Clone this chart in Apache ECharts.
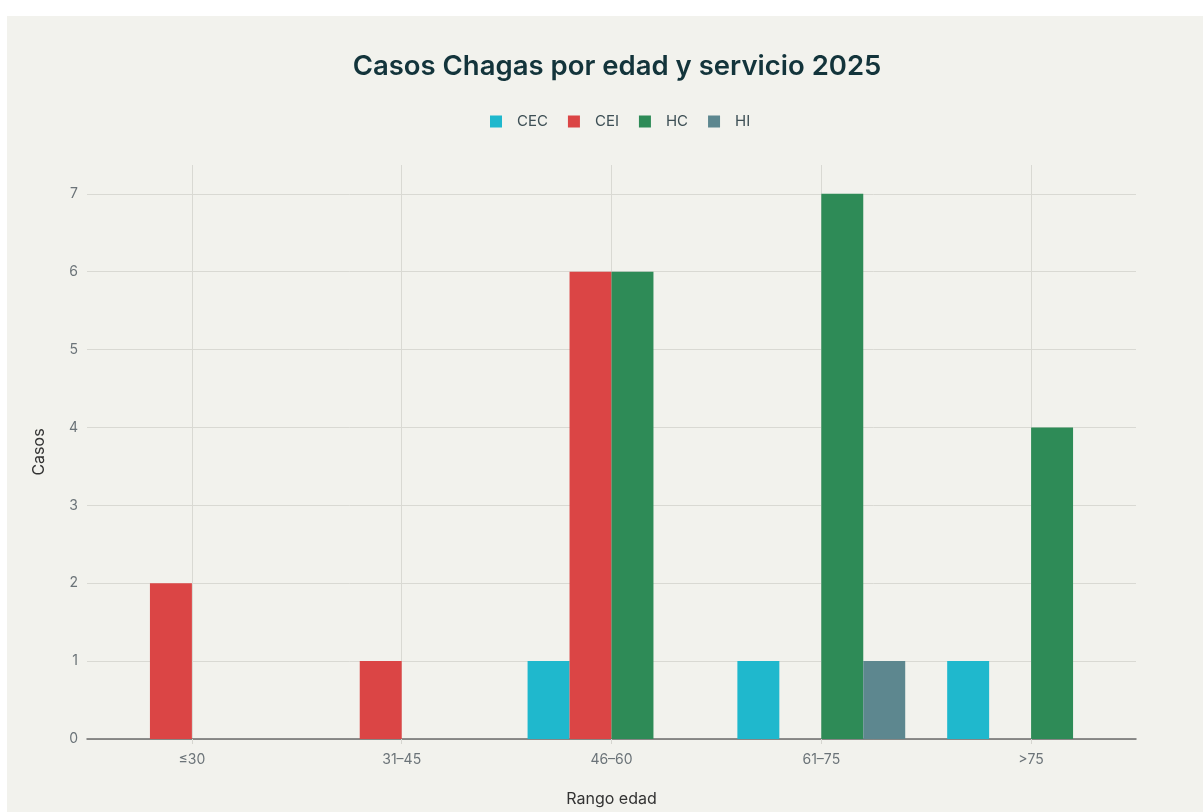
<!DOCTYPE html>
<html>
<head>
<meta charset="utf-8">
<script src="https://cdn.jsdelivr.net/npm/echarts@6/dist/echarts.min.js"></script>
<style>
  html, body { margin: 0; padding: 0; background: #ffffff; }
  #chart { position: absolute; left: 7px; top: 16px; width: 1196px; height: 796px; background: #f2f2ed; }
</style>
</head>
<body>
<div id="chart"></div>
<script>
// age ranges and cases per service
const categories = ['≤30', '31–45', '46–60', '61–75', '>75']
const cecData = [0, 0, 1, 1, 1]
const ceiData = [2, 1, 6, 0, 0]
const hcData = [0, 0, 6, 7, 4]
const hiData = [0, 0, 0, 1, 0]

const colors = ['#1FB8CD', '#DB4545', '#2E8B57', '#5D878F']
const font = 'Inter, "Noto Sans", sans-serif'

const chart = echarts.init(document.getElementById('chart'))

function bar(name, data) {
  return {
    name: name,
    type: 'bar',
    data: data,
    barGap: '0%',
    barCategoryGap: '20%'
  }
}

chart.setOption({
  color: colors,
  backgroundColor: '#f2f2ed',
  animation: false,
  title: {
    text: 'Casos Chagas por edad y servicio 2025',
    left: 605,
    textAlign: 'center',
    top: 32,
    textStyle: { fontFamily: font, fontSize: 27.5, fontWeight: 600, color: '#13343B' }
  },
  legend: {
    top: 93,
    left: 478,
    icon: 'rect',
    itemWidth: 12,
    itemHeight: 12,
    itemGap: 20,
    textStyle: { fontFamily: font, fontSize: 15, color: '#3d4f55', padding: [0, 0, 0, 10] }
  },
  grid: { left: 80, right: 67, top: 149, bottom: 70 },
  xAxis: {
    type: 'category',
    data: categories,
    name: 'Rango edad',
    nameLocation: 'middle',
    nameGap: 52,
    nameTextStyle: { fontFamily: font, fontSize: 16, color: '#333333' },
    axisLine: { lineStyle: { color: '#6b6b6b', width: 1.5 } },
    axisTick: { show: true, alignWithLabel: true, length: 5, lineStyle: { color: '#d6d6d0' } },
    axisLabel: { fontFamily: font, fontSize: 14, color: '#6b7378', margin: 14 },
    splitLine: { show: true, alignWithLabel: true, lineStyle: { color: '#d9d9d3' } }
  },
  yAxis: {
    type: 'value',
    min: 0,
    max: 7.37,
    interval: 1,
    name: 'Casos',
    nameLocation: 'middle',
    nameGap: 40,
    nameTextStyle: { fontFamily: font, fontSize: 16, color: '#333333' },
    axisLine: { show: false },
    axisTick: { show: false },
    axisLabel: { fontFamily: font, fontSize: 14, color: '#6b7378', margin: 9, showMaxLabel: false },
    splitLine: { show: true, showMaxLine: false, lineStyle: { color: '#d9d9d3' } }
  },
  series: [
    bar('CEC', cecData),
    bar('CEI', ceiData),
    bar('HC', hcData),
    bar('HI', hiData)
  ]
})
</script>
</body>
</html>
